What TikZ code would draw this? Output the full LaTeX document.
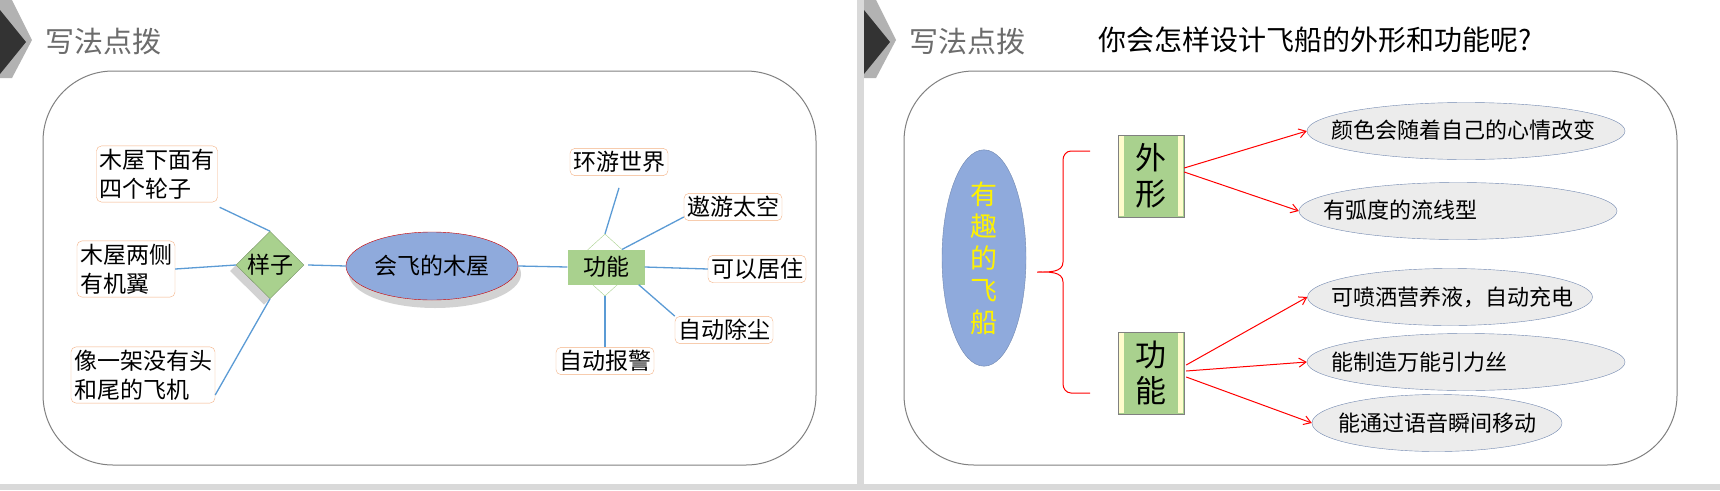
\documentclass[tikz,border=0pt]{standalone}
\usepackage{fontspec}
\setmainfont{Noto Sans CJK SC}
\usetikzlibrary{shapes.geometric,positioning,shadows,arrows.meta}
\definecolor{lineblue}{HTML}{5B9BD5}
\definecolor{leafgreen}{HTML}{A9D18E}
\definecolor{hubblue}{HTML}{8FAADC}
\definecolor{boxedge}{HTML}{F4B183}
\tikzset{
  x=1pt, y=-1pt,
  leaf/.style={draw=boxedge, fill=white, rounded corners=5pt, align=left,
    inner sep=3pt, font=\fontsize{23}{29}\selectfont},
  hub/.style={diamond, draw=leafgreen!70!black, fill=leafgreen, minimum width=68pt,
    minimum height=62pt, inner sep=0pt, font=\fontsize{23}{26}\selectfont},
  twig/.style={lineblue, line width=1.3pt},
  idea/.style={ellipse, draw=hubblue!80!black, fill=gray!15, minimum height=57pt},
  idtext/.style={anchor=west, font=\fontsize{22}{26}\selectfont},
  pick/.style={red, line width=1pt, -{Straight Barb[length=7pt,width=9pt]}},
  tagbox/.style={draw=gray, fill=leafgreen, minimum width=66pt, minimum height=82pt,
    inner sep=0pt, align=center, font=\fontsize{31}{36}\selectfont},
  heading/.style={anchor=west, text=gray!85!black, font=\fontsize{29}{32}\selectfont}
}
\begin{document}
\begin{tikzpicture}
\useasboundingbox (0,0) rectangle (1720,490);
\fill[white] (0,0) rectangle (1720,490);
\fill[gray!30] (0,484) rectangle (1720,490);
\fill[gray!30] (857,0) rectangle (864,490);

% left slide
\fill[gray!60] (0,0) -- (12,0) -- (32,40) -- (12,78) -- (0,78) -- cycle;
\fill[black!80] (0,10) -- (26,42) -- (0,74) -- cycle;
\node[heading] (lhead) at (42,42) {写法点拨};
\draw[gray, line width=1pt, rounded corners=70pt] (43,71) rectangle (816,465);

\node[ellipse, draw=red!80!black, fill=hubblue, minimum width=172pt, minimum height=68pt,
  drop shadow={opacity=0.35, shadow xshift=3pt, shadow yshift=-8pt},
  font=\fontsize{23}{26}\selectfont] (house) at (432,266) {会飞的木屋};
\node[hub, drop shadow={opacity=0.35, shadow xshift=-6pt, shadow yshift=-6pt}] (look) at (270,265) {样子};
\node[hub, fill=white, draw=leafgreen] (use) at (605,265) {};
\node[fill=leafgreen, minimum width=77pt, minimum height=35pt, inner sep=0pt,
  font=\fontsize{23}{26}\selectfont] (usebox) at (606,267) {功能};

\node[leaf] (wheel) at (157,174) {木屋下面有\\四个轮子};
\node[leaf] (wing) at (126,269) {木屋两侧\\有机翼};
\node[leaf] (plane) at (143,375) {像一架没有头\\和尾的飞机};
\node[leaf] (world) at (619,162) {环游世界};
\node[leaf] (space) at (733,207) {遨游太空};
\node[leaf] (live) at (757,269) {可以居住};
\node[leaf] (dust) at (724,330) {自动除尘};
\node[leaf] (alarm) at (605,361) {自动报警};

\draw[twig] (wheel.south east) ++(2,5) -- (look.north);
\draw[twig] (wing.east) -- (look.west);
\draw[twig] (plane.east) ++(0,20) -- (look.south);
\draw[twig] (look.east) ++(4,0) -- (house.west);
\draw[twig] (house.east) -- (usebox.west);
\draw[twig] (world.south) ++(0,12) -- (use.north);
\draw[twig] (space.west) ++(0,10) -- (use.north east);
\draw[twig] (usebox.east) -- (live.west);
\draw[twig] (usebox.south east) ++(-6,0) -- (dust.north west);
\draw[twig] (use.south) -- (alarm.north);

% right slide
\fill[gray!60] (864,0) -- (876,0) -- (896,40) -- (876,78) -- (864,78) -- cycle;
\fill[black!80] (864,10) -- (890,42) -- (864,74) -- cycle;
\node[heading] (rhead) at (906,42) {写法点拨};
\node[anchor=west, font=\fontsize{28}{32}\selectfont] (ask) at (1095,40) {你会怎样设计飞船的外形和功能呢?};
\draw[gray, line width=1pt, rounded corners=70pt] (904,71) rectangle (1677,465);

\node[ellipse, draw=hubblue!80!black, fill=hubblue, minimum width=84pt, minimum height=178pt,
  inner sep=0pt, text=yellow, align=center, font=\fontsize{27}{32}\selectfont] (ship) at (984,258)
  {有\\趣\\的\\飞\\船};
\draw[red, line width=1pt] (1090,151) -- (1071,151) to[out=180,in=90] (1063,160) -- (1063,262)
  to[out=-90,in=0] (1037,272) to[out=0,in=90] (1063,282) -- (1063,384)
  to[out=-90,in=180] (1071,393) -- (1090,393);

\node[tagbox] (shape) at (1151,176) {外\\形};
\node[tagbox] (func) at (1151,373) {功\\能};
\foreach \t in {shape,func}{
  \fill[yellow!20] (\t.north west) ++(1,1) rectangle ++(5,80);
  \fill[yellow!20] (\t.north east) ++(-1,1) rectangle ++(-5,80);
}

\node[idea, minimum width=318pt] (colour) at (1466,131) {};
\node[idea, minimum width=318pt] (curve) at (1458,211) {};
\node[idea, minimum width=285pt] (spray) at (1450,297) {};
\node[idea, minimum width=318pt] (silk) at (1466,362) {};
\node[idea, minimum width=250pt] (jump) at (1437,423) {};
\node[idtext] (colourt) at (1328,130) {颜色会随着自己的心情改变};
\node[idtext] (curvet) at (1320,210) {有弧度的流线型};
\node[idtext] (sprayt) at (1328,297) {可喷洒营养液，自动充电};
\node[idtext] (silkt) at (1328,362) {能制造万能引力丝};
\node[idtext] (jumpt) at (1335,423) {能通过语音瞬间移动};

\draw[pick] (shape.east) ++(0,-8) -- (colour.west);
\draw[pick] (shape.east) ++(0,-4) -- (curve.west);
\draw[pick] (func.east) ++(2,-8) -- (spray.west);
\draw[pick] (func.east) ++(2,-2) -- (silk.west);
\draw[pick] (func.east) ++(2,4) -- (jump.west);
\end{tikzpicture}
\end{document}
